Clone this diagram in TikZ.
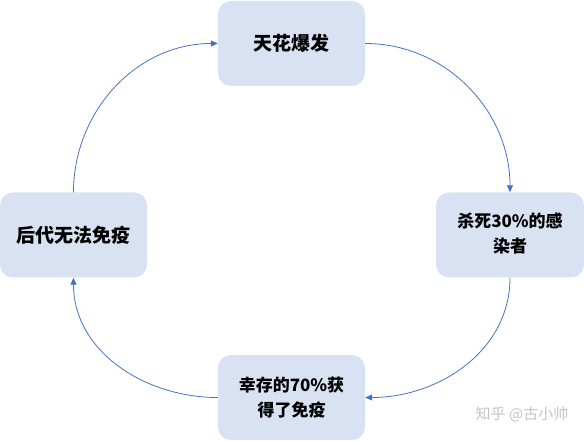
\documentclass[tikz,border=0pt]{standalone}
\usepackage{fontspec}
\newfontfamily\cjk{Noto Sans CJK SC}
\usetikzlibrary{arrows.meta}
\definecolor{boxfill}{HTML}{D9E2F3}
\definecolor{linecol}{HTML}{4472C4}
\definecolor{wm}{HTML}{C4C4C4}
\begin{document}
\begin{tikzpicture}[x=1pt,y=1pt,
  stagebox/.style={draw=none,fill=boxfill,rounded corners=13pt,minimum width=147pt,minimum height=85pt,align=center,
    font=\cjk\bfseries\fontsize{17}{25}\selectfont,text=black,inner sep=0pt},
  bigtext/.style={font=\cjk\bfseries\fontsize{19}{25}\selectfont},
  flow/.style={draw=linecol,line width=0.8pt,-{Triangle[length=7pt,width=6pt]}}]
\useasboundingbox (0,0) rectangle (584,441);
\node[stagebox,bigtext] (top) at (291.5,397.5) {天花爆发};
\node[stagebox,minimum width=148pt] (right) at (510,206) {\raisebox{-5pt}{\begin{tabular}{@{}c@{}}杀死30\%的感\\染者\end{tabular}}};
\node[stagebox] (bottom) at (291.5,43.5) {幸存的70\%获\\得了免疫};
\node[stagebox,bigtext] (left) at (73.5,206) {后代无法免疫};
\draw[flow] (top.east) to[out=0,in=90] (right.north);
\draw[flow] (right.south) to[out=-90,in=0] (bottom.east);
\draw[flow] (bottom.west) to[out=180,in=-90] (left.south);
\draw[flow] (left.north) to[out=90,in=180] (top.west);
\node[text=wm,font=\cjk\fontsize{15}{18}\selectfont,anchor=center] (mark) at (522,27) {知乎 @古小帅};
\end{tikzpicture}
\end{document}
